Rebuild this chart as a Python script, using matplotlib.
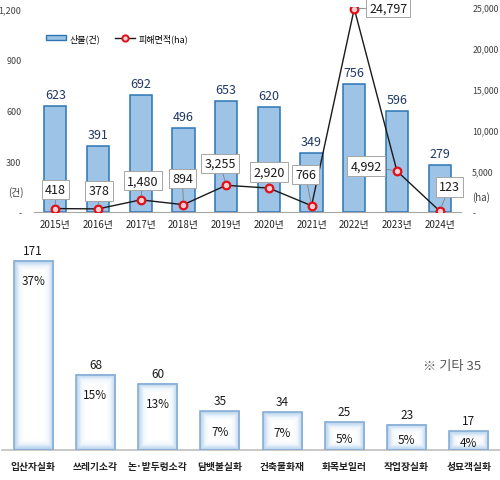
import matplotlib
matplotlib.use("Agg")
import matplotlib.pyplot as plt
import numpy as np
from matplotlib.patches import Patch
from matplotlib.lines import Line2D
from matplotlib.colors import LinearSegmentedColormap

plt.rcParams['font.family'] = ['Noto Sans CJK KR', 'DejaVu Sans']

# ---- data ----
years = ['2015년', '2016년', '2017년', '2018년', '2019년', '2020년', '2021년', '2022년', '2023년', '2024년']
fires = [623, 391, 692, 496, 653, 620, 349, 756, 596, 279]
area = [418, 378, 1480, 894, 3255, 2920, 766, 24797, 4992, 123]
area_labels = ['418', '378', '1,480', '894', '3,255', '2,920', '766', '24,797', '4,992', '123']
left_ticks = [0, 300, 600, 900, 1200]
left_ticklabels = ['-', '300', '600', '900', '1,200']
right_ticks = [0, 5000, 10000, 15000, 20000, 25000]
right_ticklabels = ['-', '5,000', '10,000', '15,000', '20,000', '25,000']

causes = ['입산자실화', '쓰레기소각', '논·밭두렁소각', '담뱃불실화', '건축물화재', '화목보일러', '작업장실화', '성묘객실화']
counts = [171, 68, 60, 35, 34, 25, 23, 17]
shares = ['37%', '15%', '13%', '7%', '7%', '5%', '5%', '4%']
other_note = '※ 기타 35'

# label offsets (pixels) for line data labels
lab_off = [(0, 19), (1, 18), (2, 19), (-1, 26), (-6, 22), (0, 16), (-6, 31), (34, 1), (-31, 5), (10, 24)]

W, H = 500, 481
fig = plt.figure(figsize=(W / 100, H / 100), dpi=100)

def fx(px):
    return px / W

def fy(py):
    return 1 - py / H

# ---- top chart ----
top_t, top_b = 8, 213
ax1 = fig.add_axes([fx(34), fy(top_b), fx(461) - fx(34), fy(top_t) - fy(top_b)])
x = np.arange(len(years))
bars = ax1.bar(x, fires, width=0.52, color='#9DC3E6', edgecolor='#2E75B6', linewidth=1.1, zorder=2)
ax1.set_xlim(-0.5, len(years) - 0.5)
ax1.set_ylim(0, 1210)
ax1.set_yticks(left_ticks)
ax1.set_yticklabels(left_ticklabels, fontsize=6.5, color='#404040')
ax1.set_xticks(x)
ax1.set_xticklabels(years, fontsize=7, color='#222222')
ax1.tick_params(axis='both', length=0)
ax1.tick_params(axis='y', pad=9)
ax1.tick_params(axis='x', pad=5)
for s in ['top', 'left', 'right']:
    ax1.spines[s].set_visible(False)
ax1.spines['bottom'].set_color('#A6A6A6')
ax1.spines['bottom'].set_linewidth(0.8)
for b, v in zip(bars, fires):
    ax1.annotate(str(v), (b.get_x() + b.get_width() / 2, v), xytext=(0, 5),
                 textcoords='offset pixels', ha='center', va='bottom',
                 fontsize=9, color='#1F3864')

ax2 = ax1.twinx()
ax2.set_ylim(0, 25000)
ax2.plot(x, area, color='#1A1A1A', lw=1.0, marker='o', ms=5.5, mfc='#FFD0D0',
         mec='#E0101A', mew=1.6, zorder=5)
ax2.set_yticks(right_ticks)
ax2.set_yticklabels(right_ticklabels, fontsize=6.3, color='#404040')
ax2.tick_params(axis='y', length=0, pad=8)
for s in ['top', 'left', 'right', 'bottom']:
    ax2.spines[s].set_visible(False)
for xi, v, lab, off in zip(x, area, area_labels, lab_off):
    ax2.annotate(lab, (xi, v), xytext=off, textcoords='offset pixels', ha='center', va='center',
                 fontsize=9, color='#1A1A1A', zorder=6,
                 bbox=dict(boxstyle='square,pad=0.25', fc='white', ec='#A6A6A6', lw=0.7),
                 arrowprops=dict(arrowstyle='-', color='#7F7F7F', lw=0.6, shrinkA=0, shrinkB=3))

fig.text(fx(16), fy(193), '(건)', fontsize=7, ha='center', va='center', color='#404040')
fig.text(fx(481), fy(198), '(ha)', fontsize=7, ha='center', va='center', color='#404040')

handles = [Patch(facecolor='#9DC3E6', edgecolor='#2E75B6', linewidth=1.0),
           Line2D([0], [0], color='#1A1A1A', lw=1.0, marker='o', ms=4.5, mfc='#FFD0D0', mec='#E0101A', mew=1.4)]
fig.legend(handles, ['산불(건)', '피해면적(ha)'], ncol=2, frameon=False, fontsize=6.5,
           loc='center', bbox_to_anchor=(fx(117), fy(39)), handlelength=2.2, handleheight=0.45,
           columnspacing=1.6, handletextpad=0.4)

# ---- bottom chart ----
bot_t, bot_b = 232, 451
ax3 = fig.add_axes([fx(2), fy(bot_b), fx(500) - fx(2), fy(bot_t) - fy(bot_b)])
xc = np.arange(len(causes))
ymax3 = 198
ax3.set_xlim(-0.5, len(causes) - 0.5)
ax3.set_ylim(0, ymax3)
bars3 = ax3.bar(xc, counts, width=0.63, facecolor='none', edgecolor='#88AED6', linewidth=1.2, zorder=3)

cmap = LinearSegmentedColormap.from_list('g', [(0, '#FFFFFF'), (0.45, '#F3F8FD'), (1, '#B3D0EC')])
n = 80
u = np.linspace(-1, 1, n)
U, V = np.meshgrid(u, u)
px_per_unit = (bot_b - bot_t) / ymax3
for b, v in zip(bars3, counts):
    x0, w = b.get_x(), b.get_width()
    hpx = v * px_per_unit
    wpx = w * (498 / len(causes))
    edge_dist = np.minimum(wpx / 2 - np.abs(U) * wpx / 2, hpx / 2 - np.abs(V) * hpx / 2)
    t = np.clip(1 - edge_dist / 10.0, 0, 1)
    ax3.imshow(t, cmap=cmap, vmin=0, vmax=1, extent=(x0, x0 + w, 0, v), aspect='auto',
               origin='lower', zorder=2, interpolation='bilinear')

ax3.set_xlim(-0.5, len(causes) - 0.5)
ax3.set_ylim(0, ymax3)
for b, v, s in zip(bars3, counts, shares):
    cx = b.get_x() + b.get_width() / 2
    ax3.annotate(str(v), (cx, v), xytext=(0, 4), textcoords='offset pixels', ha='center', va='bottom',
                 fontsize=8.5, color='#1A1A1A')
    off = min(20, 0.6 * v * px_per_unit)
    ax3.annotate(s, (cx, v), xytext=(0, -off), textcoords='offset pixels', ha='center', va='center',
                 fontsize=8.5, color='#1A1A1A', zorder=4)

ax3.set_xticks(xc)
ax3.set_xticklabels(causes, fontsize=7, fontweight='bold', color='#222222')
ax3.tick_params(axis='x', length=0, pad=8)
ax3.set_yticks([])
for s in ['top', 'left', 'right']:
    ax3.spines[s].set_visible(False)
ax3.spines['bottom'].set_color('#BFBFBF')
ax3.spines['bottom'].set_linewidth(1.2)

fig.text(fx(452), fy(367), other_note, fontsize=9.5, ha='center', va='center', color='#555555')

fig.savefig('out.png', dpi=100)
